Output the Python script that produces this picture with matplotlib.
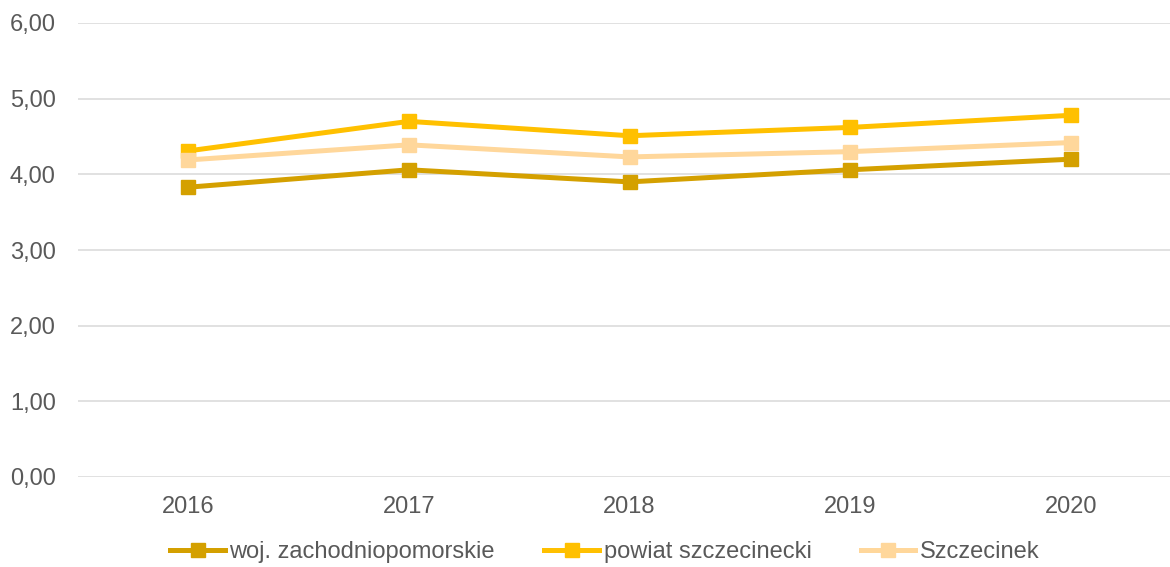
import matplotlib
matplotlib.use('Agg')
import matplotlib.pyplot as plt

years = ['2016', '2017', '2018', '2019', '2020']
woj = [3.83, 4.06, 3.90, 4.06, 4.20]
powiat = [4.31, 4.70, 4.51, 4.62, 4.78]
szczecinek = [4.19, 4.39, 4.23, 4.30, 4.42]

names = ['woj. zachodniopomorskie', 'powiat szczecinecki', 'Szczecinek']
colors = ['#D4A000', '#FFC000', '#FFD79B']
yticks = [0, 1, 2, 3, 4, 5, 6]

plt.rcParams['font.family'] = ['Liberation Sans', 'DejaVu Sans']
text_col = '#595959'

fig = plt.figure(figsize=(11.7, 5.67), dpi=100)
ax = fig.add_axes([78 / 1170, 1 - 477 / 567, 1 - 78 / 1170, (477 - 23) / 567])

x = list(range(len(years)))
for vals, name, c in zip([woj, powiat, szczecinek], names, colors):
    ax.plot(x, vals, color=c, lw=3.6, marker='s', markersize=10.5,
            label=name, solid_joinstyle='miter')

ax.set_xlim(-0.5, 4.45)
ax.set_ylim(0, 6)
ax.set_yticks(yticks)
ax.set_yticklabels([f'{v:.2f}'.replace('.', ',') for v in yticks])
ax.set_xticks(x)
ax.set_xticklabels(years)
ax.grid(axis='y', color='#D9D9D9', lw=1.1)
ax.set_axisbelow(True)
for s in ax.spines.values():
    s.set_visible(False)
ax.tick_params(axis='both', length=0, labelsize=17, colors=text_col)
ax.tick_params(axis='x', pad=14)
ax.tick_params(axis='y', pad=16)

leg = fig.legend(loc='center', bbox_to_anchor=(605 / 1170, 0.026), ncol=3,
                 frameon=False, fontsize=17, handlelength=2.3,
                 handletextpad=0.2, columnspacing=2.1)
for t in leg.get_texts():
    t.set_color(text_col)

fig.savefig('out.png', dpi=100)
